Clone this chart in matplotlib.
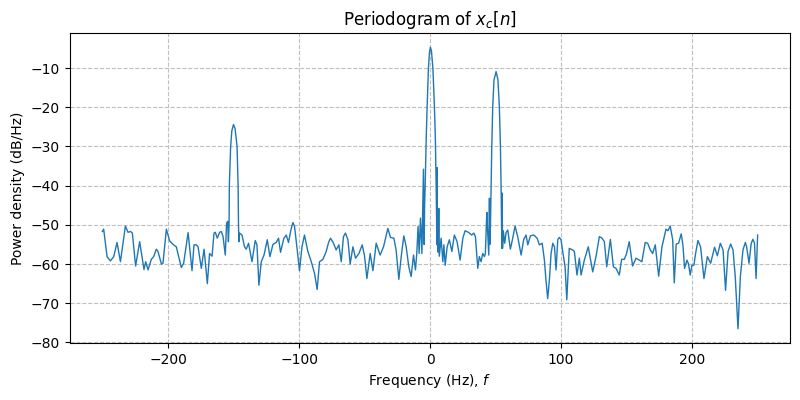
import numpy as np
import matplotlib
matplotlib.use('Agg')
import matplotlib.pyplot as plt

# frequency (Hz) and power density (dB/Hz)
freq = [
    -250.4, -249.4, -246.8, -244.3, -241.7, -239.2, -236.6, -232.8, -230.8, -228.8,
    -227.5, -225.0, -221.9, -218.6, -217.3, -215.5, -213.0, -211.2, -209.2, -207.9,
    -205.3, -204.1, -201.5, -199.0, -196.4, -193.9, -190.1, -188.3, -184.9, -181.9,
    -180.4, -178.6, -177.3, -174.8, -172.7, -170.2, -168.5, -166.6, -165.1, -164.1,
    -162.6, -160.8, -159.5, -158.2, -156.5, -155.5, -154.7, -154.1,
    -153.6, -153.4, -152.4, -151.5, -150.2, -149.0, -147.5, -146.7, -146.4, -146.1,
    -145.6, -143.7, -141.8, -140.5, -138.7, -136.1, -133.6, -132.3, -130.8, -129.0,
    -126.9, -124.4, -122.4, -120.1, -117.6, -115.8, -114.3, -111.7, -109.9, -108.2,
    -106.1, -104.8, -103.6, -101.8, -99.8, -97.9, -96.0, -93.4, -90.8, -88.3,
    -86.3, -84.5, -81.9, -79.4, -77.6, -76.1, -73.8, -71.8, -69.7, -67.9,
    -66.2, -64.7, -62.8, -61.1, -59.0, -57.0, -54.4, -51.9, -50.2, -48.3,
    -45.8, -43.7, -41.2, -38.2, -35.6, -32.3, -30.3, -27.7, -26.0, -23.9,
    -22.1, -20.1, -18.3, -16.3, -14.5, -12.7, -11.2, -10.2, -9.2, -8.4,
    -7.4, -6.3, -5.1, -4.6,
    -4.2, -3.8, -3.0, -2.3, -1.3, -0.5, 0.2, 1.0, 2.1, 3.3, 4.0, 4.6, 5.0, 5.2,
    5.3, 5.6, 6.2, 6.6, 7.0, 8.4, 9.7, 10.5, 11.5, 13.0,
    14.7, 16.6, 18.5, 20.6, 22.9, 25.0, 26.7, 29.2, 31.8, 33.4,
    34.6, 36.4, 37.6, 38.9, 40.2, 41.5, 42.2, 43.3, 43.7, 44.8, 45.3, 45.6,
    46.1, 46.6, 47.1, 47.8, 48.8, 50.4, 51.8, 52.9, 53.7, 54.2, 54.6, 54.8,
    55.0, 55.3, 55.9, 57.0, 58.0, 59.3, 61.3, 63.1, 64.9, 66.9,
    69.5, 71.5, 73.3, 74.6, 76.6, 79.2, 81.7, 83.5, 85.6, 87.3,
    88.5, 89.8, 91.1, 92.4, 93.7, 95.0, 96.2, 97.5, 98.7, 100.0,
    101.5, 103.1, 104.4, 106.3, 108.9, 110.2, 112.2, 114.0, 115.3, 117.8,
    120.8, 124.2, 126.7, 129.3, 131.3, 133.1, 134.9, 137.7, 140.0, 142.0,
    144.5, 146.3, 148.3, 149.9, 152.1, 154.7, 157.3, 159.8, 161.8, 164.3,
    166.2, 168.2, 170.0, 172.0, 174.6, 177.1, 180.2, 181.7, 183.4, 185.3,
    186.5, 188.0, 189.8, 191.8, 193.1, 194.4, 196.2, 197.4, 198.7, 200.0,
    201.5, 202.8, 204.6, 206.6, 209.2, 211.8, 214.3, 217.3, 219.4, 221.7,
    223.8, 225.7, 227.6, 229.6, 231.4, 233.1, 235.2, 237.0, 239.0, 240.8,
    241.8, 243.6, 245.3, 246.6, 247.8, 249.0, 250.2,
]
power_db = [
    -51.7, -51.1, -58.1, -59.2, -58.1, -54.5, -59.4, -50.3, -51.9, -51.7,
    -52.1, -60.5, -54.3, -61.4, -59.4, -61.5, -58.8, -58.1, -56.2, -56.8,
    -60.0, -59.8, -51.1, -54.1, -55.0, -55.6, -60.9, -59.8, -52.0, -61.7,
    -55.1, -55.1, -55.6, -61.1, -56.2, -65.0, -57.3, -58.0, -52.1, -51.9,
    -53.4, -51.9, -51.7, -53.0, -57.7, -49.6, -49.1, -54.3,
    -50.0, -40.0, -30.0, -26.0, -24.4, -25.5, -30.0, -40.0, -50.0, -54.3,
    -52.1, -52.6, -55.6, -56.2, -54.7, -59.4, -54.0, -55.1, -65.4, -59.4,
    -57.7, -53.8, -58.1, -55.0, -54.5, -53.4, -57.0, -53.4, -52.6, -54.5,
    -50.9, -49.4, -50.4, -55.6, -61.7, -55.6, -52.6, -56.8, -59.4, -62.4,
    -66.5, -59.4, -58.8, -56.8, -54.5, -53.4, -54.7, -56.4, -55.1, -59.4,
    -53.0, -52.1, -53.8, -60.0, -55.6, -58.5, -57.3, -55.1, -57.7, -63.7,
    -57.3, -61.7, -54.7, -57.7, -55.6, -50.9, -53.2, -53.4, -56.4, -63.9,
    -58.1, -52.8, -55.6, -60.7, -63.2, -57.7, -61.5, -57.3, -50.4, -57.3,
    -48.3, -57.3, -35.8, -55.0,
    -45.0, -40.0, -28.0, -20.0, -10.0, -6.0, -4.7, -5.6, -10.0, -20.0, -28.0, -40.0, -50.0, -55.0,
    -35.4, -55.0, -57.0, -45.8, -58.0, -53.4, -59.4, -55.1, -60.3, -55.6,
    -53.8, -56.8, -52.6, -54.3, -59.0, -53.4, -51.5, -51.9, -52.6, -52.1,
    -53.0, -61.1, -58.1, -59.4, -57.3, -58.1, -57.3, -46.8, -50.0, -57.7, -43.2, -55.0,
    -50.0, -40.0, -30.0, -20.0, -13.0, -10.9, -13.0, -20.0, -30.0, -40.0, -50.0, -56.0,
    -41.9, -56.0, -51.5, -54.7, -52.0, -51.3, -56.2, -53.4, -50.3, -53.0,
    -57.7, -53.7, -52.6, -55.1, -52.8, -52.6, -53.4, -55.1, -54.7, -59.0,
    -64.1, -68.8, -64.1, -57.3, -54.7, -55.6, -61.5, -53.8, -53.2, -53.8,
    -57.3, -60.7, -69.1, -56.0, -56.4, -56.8, -62.8, -58.5, -62.8, -59.0,
    -55.6, -62.0, -58.1, -53.0, -53.4, -54.3, -60.7, -53.7, -60.7, -61.1,
    -62.8, -58.8, -58.8, -57.5, -54.3, -60.5, -58.5, -59.0, -59.4, -54.5,
    -54.7, -56.4, -57.3, -55.1, -63.1, -55.6, -51.1, -51.5, -50.3, -53.8,
    -64.8, -54.9, -54.7, -52.3, -55.1, -61.1, -59.0, -60.0, -62.8, -60.3,
    -60.3, -57.3, -54.0, -55.6, -63.7, -58.1, -59.8, -55.7, -57.9, -54.7,
    -56.4, -66.7, -56.8, -54.9, -56.4, -63.2, -76.5, -63.2, -56.4, -54.5,
    -55.6, -59.8, -54.7, -53.7, -54.7, -63.7, -52.6,
]

fig, ax = plt.subplots(figsize=(8, 4), dpi=100)
ax.plot(freq, power_db, color='#1f77b4', linewidth=1)
ax.set_title('Periodogram of $x_c[n]$')
ax.set_xlabel('Frequency (Hz), $f$')
ax.set_ylabel('Power density (dB/Hz)')
ax.grid(True, linestyle='--', color='0.75')
fig.subplots_adjust(left=0.087, right=0.988, bottom=0.143, top=0.917)
fig.savefig('out.png')
